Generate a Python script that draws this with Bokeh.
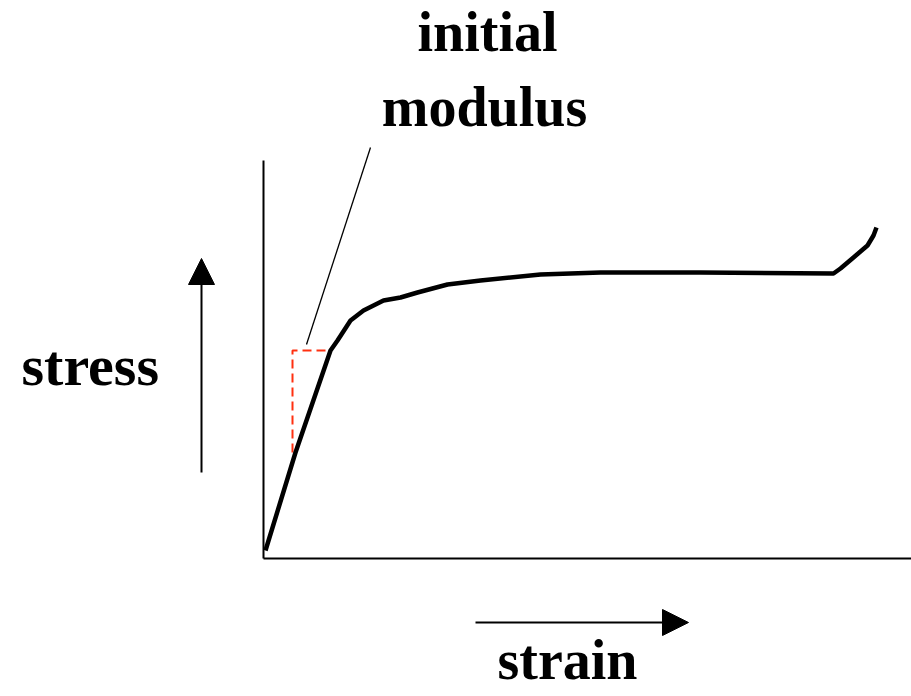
from bokeh.plotting import figure
from bokeh.models import Range1d, Arrow, NormalHead
from bokeh.core.properties import value
from bokeh.embed import file_html
from bokeh.resources import INLINE

# stress-strain curve (image pixel coordinates, y grows downward)
curve_x = [265, 295, 330, 337, 350, 363, 383, 400, 417, 447, 480, 540, 600, 700, 833, 840, 853, 867, 873, 876]
curve_y = [550, 452, 350, 340, 320, 310, 300, 297, 292, 284, 280, 274, 272, 272, 273, 268, 257, 245, 235, 227]

# axes of the diagram
axis_v_x = [263, 263]
axis_v_y = [160, 558]
axis_h_x = [263, 911]
axis_h_y = [558, 558]

# initial modulus tangent and red construction lines
tangent_x = [370, 306]
tangent_y = [147, 344]
red_x = [292, 292, 330]
red_y = [452, 350, 350]

# direction arrows
stress_arrow = (201, 472, 201, 258)
strain_arrow = (475, 622, 688, 622)

labels = ["initial", "modulus", "stress", "strain"]
label_x = [487, 484, 21, 497]
label_y = [31, 106, 365, 659]
label_align = ["center", "center", "left", "left"]
label_size = ["56px", "56px", "58px", "56px"]

p = figure(width=911, height=696, output_backend="svg", toolbar_location=None,
           x_range=Range1d(0, 911), y_range=Range1d(696, 0), min_border=0)
p.axis.visible = False
p.grid.visible = False
p.outline_line_color = None

p.line(axis_v_x, axis_v_y, line_color="black", line_width=2)
p.line(axis_h_x, axis_h_y, line_color="black", line_width=2)
p.line(tangent_x, tangent_y, line_color="black", line_width=1.3)
p.line(red_x, red_y, line_color="#ff3010", line_width=2, line_dash="9 5")
p.line(curve_x, curve_y, line_color="black", line_width=4.5, line_join="round")

for (x0, y0, x1, y1) in [stress_arrow, strain_arrow]:
    p.add_layout(Arrow(end=NormalHead(size=26, fill_color="black", line_color="black"),
                       x_start=x0, y_start=y0, x_end=x1, y_end=y1,
                       line_color="black", line_width=2))

for t, x, y, a, s in zip(labels, label_x, label_y, label_align, label_size):
    p.text(x=[x], y=[y], text=[t], text_font=value("Liberation Serif"),
           text_font_style="bold", text_font_size=s, text_align=a,
           text_baseline="alphabetic", text_color="black")

open("out.html", "w").write(file_html(p, INLINE))
